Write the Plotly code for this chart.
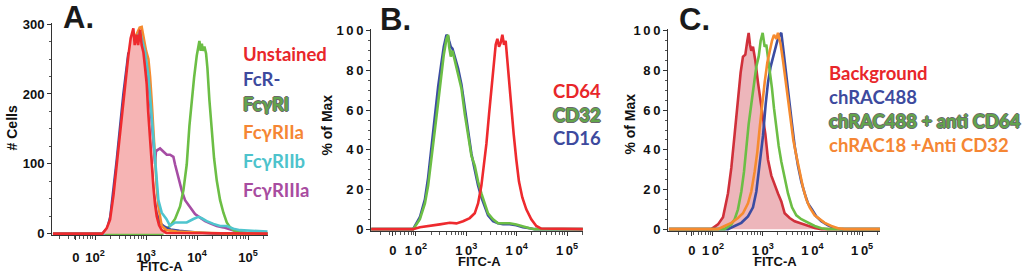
import plotly.graph_objects as go

# ---------------- Panel A (# Cells) ----------------
A_unstained_x = [15, 140, 170, 197, 230, 266, 310, 359, 400, 450, 500, 540, 564, 600, 656, 700, 763, 820, 887, 950,
                 1031, 1100, 1198, 1300, 1393, 1500, 1619, 1800, 2029, 2500, 240000]
A_unstained_y = [0, 0, 8, 20, 55, 99, 150, 190, 225, 255, 280, 290, 294, 270, 285, 270, 292, 270, 260, 240,
                 214, 175, 131, 95, 67, 42, 25, 12, 5, 1, 0]

A_fcr_x = [15, 140, 175, 200, 266, 360, 450, 520, 600, 700, 780, 880, 1000, 1200, 1400, 1600, 1900, 2300, 3000, 4500,
           6000, 9000, 15000, 25000, 240000]
A_fcr_y = [0, 0, 8, 25, 105, 200, 258, 262, 275, 285, 280, 255, 210, 120, 60, 30, 15, 10, 6, 4,
           3, 2, 1, 0, 0]

A_ri_x = [15, 2100, 2358, 2955, 3704, 4642, 5395, 6270, 7073, 7856, 8730, 9860, 11110, 11800, 12400, 12920, 13920,
          15000, 15950, 17450, 19400, 21530, 24300, 28250, 32820, 38170, 44360, 51580, 69700, 94200, 240000]
A_ri_y = [0, 0, 5, 11, 21, 39, 62, 99, 154, 191, 223, 255, 276, 262, 272, 262, 268,
          258, 237, 191, 145, 108, 76, 48, 30, 16, 9, 5, 2, 1, 0]

A_riia_x = [15, 150, 200, 270, 360, 450, 560, 650, 750, 822, 900, 1000, 1111, 1200, 1291, 1400, 1500, 1620, 1745, 1900,
            2029, 2543, 4000, 8000, 20000, 40000, 240000]
A_riia_y = [0, 0, 10, 60, 170, 240, 275, 285, 295, 296, 280, 262, 250, 225, 190, 140, 99, 65, 39, 20,
            11, 5, 3, 2, 1, 0, 0]

A_riib_x = [15, 150, 200, 270, 360, 450, 560, 650, 763, 850, 955, 1111, 1291, 1500, 1745, 2029, 2500, 2955, 3704, 4642,
            6270, 8472, 10620, 12350, 15480, 20900, 28250, 38170, 51580, 69700, 109400, 199900, 240000]
A_riib_y = [0, 0, 12, 70, 180, 245, 275, 280, 289, 275, 260, 227, 168, 99, 48, 30, 21, 11, 16, 16,
            16, 21, 24, 22, 18, 14, 11, 11, 7, 5, 4, 3, 3]

A_riiia_x = [15, 150, 200, 270, 360, 450, 560, 650, 763, 850, 955, 1111, 1291, 1500, 1560, 1619, 1882, 2187, 2543, 2955,
             3435, 3704, 4305, 5003, 5815, 6760, 7856, 9130, 11450, 14350, 17990, 24300, 32820, 44360, 59950, 94200, 240000]
A_riiia_y = [0, 0, 10, 65, 175, 240, 270, 275, 285, 270, 255, 220, 160, 100, 117, 119, 122, 118, 113, 113,
             110, 99, 80, 62, 48, 41, 34, 28, 23, 18, 15, 11, 9, 6, 3, 1, 0]

# ---------------- Panel B (% of Max) ----------------
B_cd64_x = [13, 88, 120, 189, 299, 471, 638, 865, 1173, 1473, 1715, 1996, 2255, 2508, 2832, 3150, 3506, 3839, 4142, 4470,
            4823, 5204, 5615, 6058, 6440, 7050, 7840, 8725, 9845, 11120, 12950, 15540, 19520, 24530, 30780, 206000]
B_cd64_y = [0, 0, 1, 1.6, 2.4, 3.2, 2.9, 4, 5.6, 8, 13, 22, 32, 43, 58, 71, 84, 93, 96, 92,
            94, 98, 93, 95, 87, 74, 61, 48, 35, 24, 16, 10, 5, 1.6, 0.3, 0]

B_cd32_x = [13, 88.5, 120, 151, 175, 204, 238, 277, 322, 358, 405, 437, 457, 493, 532, 592, 689, 802, 934, 1087,
            1265, 1473, 1715, 1996, 2324, 2705, 3398, 4268, 5361, 7265, 9845, 13340, 18080, 22700, 206000]
B_cd32_y = [0, 0, 5, 13, 22, 35, 50, 64, 79, 88, 96, 98, 92, 87, 90, 85, 79, 71, 58, 47,
            37, 32, 24, 18, 13, 8, 5, 3, 3, 3, 2.4, 1.3, 0.5, 0, 0]

B_cd16_x = [13, 88, 120, 151, 175, 204, 238, 277, 322, 358, 405, 437, 457, 493, 532, 592, 689, 802, 934, 1087,
            1265, 1473, 1715, 1996, 2324, 2705, 3398, 4268, 5361, 7265, 9845, 13340, 18080, 22700, 206000]
B_cd16_y = [0, 0, 6, 15, 26, 42, 58, 72, 84, 92, 98, 97, 95, 92, 91, 87, 81, 73, 62, 50,
            38, 30, 22, 16, 11, 7, 4, 3, 2.5, 2.5, 2, 1, 0.5, 0, 0]

# ---------------- Panel C (% of Max) ----------------
C_bg_x = [13, 92.6, 126, 159, 200, 234, 273, 318, 360, 401, 447, 491, 522, 555, 590, 638, 711, 804, 910, 1014,
          1130, 1279, 1493, 1741, 2032, 2371, 2767, 3489, 4397, 5987, 8151, 11110, 15130, 228000]
C_bg_y = [0, 0, 2.4, 6, 18, 31, 48, 66, 79, 87, 88, 95, 99, 93, 90, 92, 85, 74, 63, 56,
          48, 35, 27, 22, 18, 14, 8, 5.6, 4, 2.9, 1.6, 0.6, 0, 0]

C_rac_x = [13, 200, 273, 372, 506, 638, 745, 869, 1014, 1148, 1279, 1446, 1612, 1796, 1969, 2195, 2371, 2561, 2767, 3083,
           3489, 3888, 4397, 5131, 5987, 6985, 8151, 9820, 11990, 15130, 20600, 28050, 38190, 228000]
C_rac_y = [0, 0, 1.6, 3.2, 6.4, 11, 19, 32, 47, 63, 74, 82, 87, 92, 95, 98, 99, 92, 84, 74,
           63, 53, 42, 32, 24, 18, 13, 10, 6.4, 4, 1.9, 0.6, 0, 0]

C_cd64_x = [13, 172, 234, 273, 318, 372, 421, 469, 522, 590, 668, 745, 830, 910, 998, 1096, 1183, 1279, 1380, 1538,
            1688, 1880, 2096, 2371, 2767, 3228, 3888, 4753, 5987, 8151, 11110, 15130, 20600, 228000]
C_cd64_y = [0, 0, 2.4, 5, 10, 19, 29, 42, 53, 63, 74, 82, 87, 95, 99, 92, 93, 87, 79, 71,
            61, 51, 42, 34, 26, 18, 11, 7, 5, 3.2, 1.6, 0.5, 0, 0]

C_cd32_x = [13, 126, 172, 234, 318, 401, 506, 590, 689, 780, 869, 968, 1096, 1240, 1380, 1538, 1688, 1880, 2032, 2300,
            2561, 2853, 3228, 3653, 4133, 4753, 5546, 6470, 7552, 8813, 11110, 14000, 17660, 24040, 32740, 44590, 228000]
C_cd32_y = [0, 0, 1.6, 3.2, 5.6, 8, 13, 19, 29, 39, 51, 63, 74, 84, 90, 95, 98, 96, 99, 93,
            85, 76, 63, 55, 45, 37, 29, 21, 15, 11, 7, 5, 3.2, 1.6, 0.5, 0, 0]

# tick labels
A_xtick_text = ["0", "10<sup>2</sup>", "10<sup>3</sup>", "10<sup>4</sup>", "10<sup>5</sup>"]
BC_xtick_text = ["0", "1\u20090<sup>2</sup>", "1\u20090<sup>3</sup>", "1\u20090<sup>4</sup>", "1\u20090<sup>5</sup>"]
A_ytick_vals = [0, 100, 200, 300]
BC_ytick_vals = [0, 20, 40, 60, 80, 100]
BC_ytick_text = ["0", "2\u20090", "4\u20090", "6\u20090", "8\u20090", "1\u20090\u20090"]

# legends
A_labels = ["Unstained", "FcR-", "Fc\u03b3RI", "Fc\u03b3RIIa", "Fc\u03b3RIIb", "Fc\u03b3RIIIa"]
B_labels = ["CD64", "CD32", "CD16"]
C_labels = ["Background", "chRAC488", "chRAC488 + anti CD64", "chRAC18 +Anti CD32"]

W, H = 1024, 276
RED = "#EE2A2E"
BLUE = "#3B4CA2"
GREEN = "#6CBE45"
ORANGE = "#F68B2F"
CYAN = "#4FC5CE"
PURPLE = "#A64DA4"
DARKRED = "#D0303A"

fig = go.Figure()

def line(x, y, color, xa, ya, fill=None, fillcolor=None, w=2.6):
    fig.add_trace(go.Scatter(x=x, y=y, mode="lines", xaxis=xa, yaxis=ya,
                             line=dict(color=color, width=w), fill=fill, fillcolor=fillcolor,
                             showlegend=False, hoverinfo="skip"))

# panel A
line(A_riiia_x, A_riiia_y, PURPLE, "x", "y")
line(A_ri_x, A_ri_y, GREEN, "x", "y")
line(A_fcr_x, A_fcr_y, BLUE, "x", "y")
line(A_riia_x, A_riia_y, ORANGE, "x", "y")
line(A_riib_x, A_riib_y, CYAN, "x", "y")
line(A_unstained_x, A_unstained_y, RED, "x", "y", fill="tozeroy", fillcolor="#F6B4B4")
# panel B
line(B_cd16_x, B_cd16_y, BLUE, "x2", "y2")
line(B_cd32_x, B_cd32_y, GREEN, "x2", "y2")
line(B_cd64_x, B_cd64_y, RED, "x2", "y2")
# panel C
line(C_bg_x, C_bg_y, DARKRED, "x3", "y3", fill="tozeroy", fillcolor="#EDB6BB")
line(C_rac_x, C_rac_y, BLUE, "x3", "y3")
line(C_cd64_x, C_cd64_y, GREEN, "x3", "y3")
line(C_cd32_x, C_cd32_y, ORANGE, "x3", "y3")

def px(v):
    return v / W

def py(v):
    return 1 - v / H

TICKFONT = dict(family="Liberation Sans, Arial", size=13, color="#111", weight="bold")
minor_vals = [k * 10 ** d for d in range(1, 6) for k in range(2, 10)]

def xaxis(x0, x1, lo, hi, zero, texts, standoff):
    return dict(type="log", domain=[px(x0), px(x1)], range=[lo, hi],
                tickmode="array", tickvals=[10 ** zero, 1e2, 1e3, 1e4, 1e5], ticktext=texts,
                ticks="outside", ticklen=4, tickcolor="#333", showline=True, linecolor="#333", linewidth=1,
                showgrid=False, zeroline=False, tickfont=TICKFONT, ticklabelstandoff=standoff,
                minor=dict(tickmode="array", tickvals=minor_vals, ticks="outside", ticklen=3, tickcolor="#555",
                           showgrid=False))

def yaxis(ytop_px, ybot_px, lo, hi, vals, texts, anchor, mdt):
    return dict(domain=[py(ybot_px), py(ytop_px)], range=[lo, hi], anchor=anchor,
                tickmode="array", tickvals=vals, ticktext=texts,
                ticks="outside", ticklen=4, tickcolor="#333", showline=True, linecolor="#333", linewidth=1,
                showgrid=False, zeroline=False, tickfont=TICKFONT,
                minor=dict(ticks="outside", ticklen=2, dtick=mdt, tickcolor="#555", showgrid=False))

# panel A: 0 at y=238, 300 at y=19 -> 0.73 px/unit; range [-2, 302]
fig.update_layout(
    xaxis=xaxis(52, 268, 1.157, 5.39, 1.627, A_xtick_text, 6) | dict(anchor="y"),
    yaxis=yaxis(238 - 302 * 0.73, 238 + 2 * 0.73, -2, 302, A_ytick_vals, [str(v) for v in A_ytick_vals], "x", 25),
    xaxis2=xaxis(371, 583, 1.109, 5.317, 1.545, BC_xtick_text, 3) | dict(anchor="y2"),
    yaxis2=yaxis(233.3 - 101 * 2.073, 233.3 + 1 * 2.073, -1, 101, BC_ytick_vals, BC_ytick_text, "x2", 5),
    xaxis3=xaxis(668, 880, 1.095, 5.36, 1.577, BC_xtick_text, 3) | dict(anchor="y3"),
    yaxis3=yaxis(233.3 - 101 * 2.073, 233.3 + 1 * 2.073, -1, 101, BC_ytick_vals, BC_ytick_text, "x3", 5),
)

annotations = []

def ann(text, x, y, size, color, family="Liberation Sans, Arial", xanchor="left", angle=0, shadow=None):
    f = dict(family=family, size=size, color=color, weight="bold")
    if shadow:
        f["shadow"] = shadow
    annotations.append(dict(text=text, x=px(x), y=py(y), xref="paper", yref="paper", showarrow=False,
                            xanchor=xanchor, yanchor="middle", font=f, textangle=angle))

# panel letters
ann("A.", 61, 12, 31, "#1a1a1a")
ann("B.", 378, 14, 31, "#1a1a1a")
ann("C.", 677, 14, 31, "#1a1a1a")
# axis titles
ann("FITC-A", 161, 272, 13, "#111", xanchor="center")
ann("FITC-A", 479, 267, 13, "#111", xanchor="center")
ann("FITC-A", 775, 267, 13, "#111", xanchor="center")
ann("# Cells", 12, 128, 14, "#111", xanchor="center", angle=-90)
ann("% of Max", 327, 125, 14, "#111", xanchor="center", angle=-90)
ann("% of Max", 630, 124, 14, "#111", xanchor="center", angle=-90)

OUT = "1px 0 0 #6a6a6a, -1px 0 0 #6a6a6a, 0 1px 0 #6a6a6a, 0 -1px 0 #6a6a6a"
LEG = "Lato, Carlito, Calibri, sans-serif"
LSIZE = 18.5
A_colors = ["#E8262A", "#3D4A9E", "#62A54C", "#F58634", "#4DC3CC", "#A84CA0"]
A_ys = [50, 76, 102, 132, 162, 192]
for t, c, yy in zip(A_labels, A_colors, A_ys):
    ann(t, 241, yy, LSIZE, c, family=LEG, shadow=OUT if "RI" == t[-2:] else None)
B_colors = ["#E8262A", "#62A54C", "#3D4A9E"]
B_ys = [89, 114, 138]
for t, c, yy in zip(B_labels, B_colors, B_ys):
    ann(t, 551, yy, LSIZE, c, family=LEG, shadow=OUT if t == "CD32" else None)
C_colors = ["#E8262A", "#3D4A9E", "#62A54C", "#F58634"]
C_ys = [70, 95, 120, 145]
for t, c, yy in zip(C_labels, C_colors, C_ys):
    ann(t, 827, yy, LSIZE, c, family=LEG, shadow=OUT if "anti" in t else None)

fig.update_layout(annotations=annotations, width=W, height=H, margin=dict(l=0, r=0, t=0, b=0),
                  paper_bgcolor="white", plot_bgcolor="white", showlegend=False)

# remove the browser's default 8px body margin so the figure sits at the window origin
fig.write_html("out.html", config={"displayModeBar": False},
               post_script="document.body.style.margin='0';document.body.style.padding='0';")
